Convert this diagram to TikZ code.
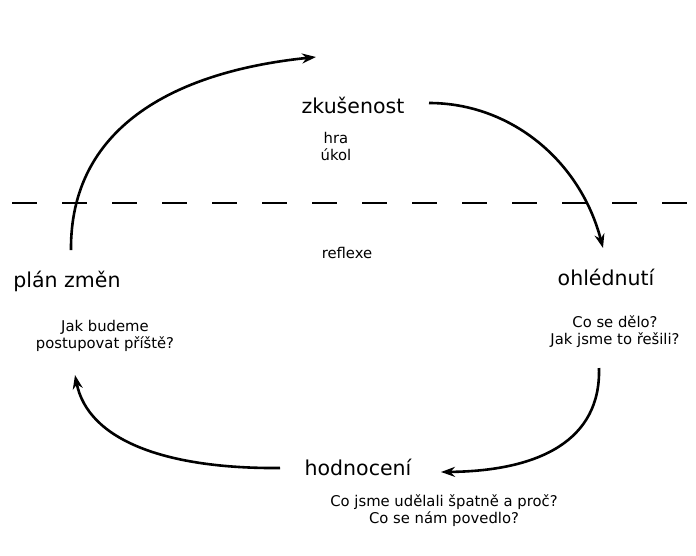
\documentclass[tikz,border=0pt]{standalone}
\usepackage{fontspec}
\setmainfont{DejaVu Sans}
\usepackage{tikz}
\usetikzlibrary{positioning, arrows.meta}

\begin{document}
\begin{tikzpicture}[
    x=1pt, y=-1pt,
    arrow/.style={-{Stealth[length=14pt, width=10pt]}, line width=2.6pt},
    stage/.style={anchor=base, inner sep=0pt, font=\fontsize{20.5}{24}\selectfont},
    note/.style={anchor=base, inner sep=0pt, align=center, font=\fontsize{14.8}{17}\selectfont}
]
    \useasboundingbox (0,0) rectangle (696,555);

    % Stages
    \node[stage] (exp) at (353, 113) {zkušenost};
    \node[stage] (look) at (606, 285) {ohlédnutí};
    \node[stage] (eval) at (358, 475) {hodnocení};
    \node[stage] (plan) at (67, 287) {plán změn};

    % Notes (base = last line)
    \node[note] (expnote) at (336, 160) {hra\\úkol};
    \node[note] (refl) at (347, 258) {reflexe};
    \node[note] (looknote) at (615, 344) {Co se dělo?\\Jak jsme to řešili?};
    \node[note] (evalnote) at (444, 523) {Co jsme udělali špatně a proč?\\Co se nám povedlo?};
    \node[note] (plannote) at (105, 348) {Jak budeme\\postupovat příště?};

    % Dividing line
    \coordinate (divl) at (12, 203);
    \coordinate (divr) at (690, 203);
    \draw[line width=2.4pt, dash pattern=on 25pt off 25pt] (divl) -- (divr);

    % Arrow ends
    \coordinate (planout) at (71, 250);
    \coordinate (expin) at (316, 57);
    \coordinate (expout) at (429, 103);
    \coordinate (lookin) at (603, 248);
    \coordinate (lookout) at (599, 368);
    \coordinate (evalin) at (441, 472);
    \coordinate (evalout) at (280, 468);
    \coordinate (planin) at (75, 375);

    % Cycle
    \draw[arrow] (planout) .. controls (70, 130) and (170, 72) .. (expin);
    \draw[arrow] (expout) .. controls (510, 103) and (580, 160) .. (lookin);
    \draw[arrow] (lookout) .. controls (601, 440) and (540, 471) .. (evalin);
    \draw[arrow] (evalout) .. controls (165, 469) and (88, 440) .. (planin);

\end{tikzpicture}
\end{document}
